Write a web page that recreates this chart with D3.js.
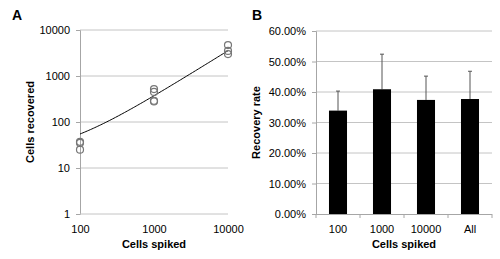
<!DOCTYPE html>
<html>
<head>
<meta charset="utf-8">
<script src="https://cdn.jsdelivr.net/npm/d3@7"></script>
<style>
  body { margin: 0; background: #fff; }
  text { font-family: "Liberation Sans", Arial, sans-serif; fill: #000; }
</style>
</head>
<body>
<div id="chart"></div>
<script>
// panel A: spiked vs recovered (log-log)
const spikedA = [100, 100, 100, 1000, 1000, 1000, 1000, 10000, 10000, 10000];
const recoveredA = [37, 35, 25, 520, 450, 290, 280, 4700, 3500, 3000];
const ticksA = [1, 10, 100, 1000, 10000];
const ticksAx = [100, 1000, 10000];
// linear trendline: y = slope * x + intercept
const trendSlope = 0.353;
const trendIntercept = 19.5;

// panel B: recovery rate
const categoriesB = ['100', '1000', '10000', 'All'];
const rateB = [0.339, 0.409, 0.374, 0.377];
const errB = [0.064, 0.115, 0.078, 0.091];
const ticksB = [0, 0.1, 0.2, 0.3, 0.4, 0.5, 0.6];

const svg = d3.select('#chart').append('svg')
  .attr('width', 500)
  .attr('height', 259);

const gridColor = '#c4c4c4';
const axisColor = '#a6a6a6';

// ---- Panel A ----
const xA = d3.scaleLog().domain([100, 10000]).range([80, 228]);
const yA = d3.scaleLog().domain([1, 10000]).range([214, 30]);

const gA = svg.append('g');

gA.selectAll('line.grid')
  .data(ticksA.slice(1))
  .join('line')
  .attr('class', 'grid')
  .attr('x1', xA(100)).attr('x2', xA(10000))
  .attr('y1', d => yA(d)).attr('y2', d => yA(d))
  .attr('stroke', gridColor);

const yAxisA = gA.append('g')
  .attr('transform', `translate(${xA(100)},0)`)
  .call(d3.axisLeft(yA).tickValues(ticksA).tickFormat(d3.format('d')).tickSize(4).tickPadding(6));
const xAxisA = gA.append('g')
  .attr('transform', `translate(0,${yA(1)})`)
  .call(d3.axisBottom(xA).tickValues(ticksAx).tickFormat(d3.format('d')).tickSize(0).tickPadding(11));

[yAxisA, xAxisA].forEach(ax => {
  ax.selectAll('path, line').attr('stroke', axisColor);
  ax.selectAll('text').attr('font-size', 11).attr('font-family', '"Liberation Sans", Arial, sans-serif').attr('fill', '#000');
});
xAxisA.select('path').attr('stroke', 'none');
gA.append('line')
  .attr('x1', xA(100)).attr('x2', xA(10000))
  .attr('y1', yA(1)).attr('y2', yA(1))
  .attr('stroke', gridColor);

// trendline
const trendX = d3.range(0, 101).map(i => Math.pow(10, 2 + i * 0.02));
gA.append('path')
  .datum(trendX)
  .attr('fill', 'none')
  .attr('stroke', '#000')
  .attr('stroke-width', 1)
  .attr('d', d3.line().x(d => xA(d)).y(d => yA(trendSlope * d + trendIntercept)));

gA.selectAll('circle')
  .data(spikedA.map((s, i) => [s, recoveredA[i]]))
  .join('circle')
  .attr('cx', d => xA(d[0]))
  .attr('cy', d => yA(d[1]))
  .attr('r', 3.5)
  .attr('fill', 'none')
  .attr('stroke', '#777')
  .attr('stroke-width', 1.2);

gA.append('text')
  .attr('x', 12).attr('y', 20)
  .attr('font-size', 14).attr('font-weight', 'bold')
  .text('A');
gA.append('text')
  .attr('x', xA(1000)).attr('y', 248)
  .attr('text-anchor', 'middle')
  .attr('font-size', 11).attr('font-weight', 'bold')
  .text('Cells spiked');
gA.append('text')
  .attr('transform', `translate(34,${(yA(1) + yA(10000)) / 2}) rotate(-90)`)
  .attr('text-anchor', 'middle')
  .attr('font-size', 11).attr('font-weight', 'bold')
  .text('Cells recovered');

// ---- Panel B ----
const xB = d3.scaleBand().domain(categoriesB).range([316, 492])
  .paddingInner(0.59).paddingOuter(0.295);
const yB = d3.scaleLinear().domain([0, 0.6]).range([214, 31]);

const gB = svg.append('g');

gB.selectAll('line.grid')
  .data(ticksB.slice(1))
  .join('line')
  .attr('class', 'grid')
  .attr('x1', 316).attr('x2', 492)
  .attr('y1', d => yB(d)).attr('y2', d => yB(d))
  .attr('stroke', gridColor);

const yAxisB = gB.append('g')
  .attr('transform', 'translate(316,0)')
  .call(d3.axisLeft(yB).tickValues(ticksB).tickFormat(d3.format('.2%')).tickSize(4).tickPadding(6));
const xAxisB = gB.append('g')
  .attr('transform', `translate(0,${yB(0)})`)
  .call(d3.axisBottom(xB).tickSize(0).tickPadding(11));

[yAxisB, xAxisB].forEach(ax => {
  ax.selectAll('path, line').attr('stroke', axisColor);
  ax.selectAll('text').attr('font-size', 11).attr('font-family', '"Liberation Sans", Arial, sans-serif').attr('fill', '#000');
});
xAxisB.select('path').attr('d', `M316,0.5H492`);

// category boundary ticks
const stepB = xB.step();
const bounds = categoriesB.map(c => xB(c) + xB.bandwidth() / 2 - stepB / 2)
  .concat([xB(categoriesB[categoriesB.length - 1]) + xB.bandwidth() / 2 + stepB / 2]);
gB.selectAll('line.btick')
  .data(bounds)
  .join('line')
  .attr('class', 'btick')
  .attr('x1', d => d).attr('x2', d => d)
  .attr('y1', yB(0)).attr('y2', yB(0) + 4)
  .attr('stroke', axisColor);

// error bars (upper only)
const errG = gB.selectAll('g.err')
  .data(categoriesB)
  .join('g')
  .attr('class', 'err');
errG.append('line')
  .attr('x1', d => xB(d) + xB.bandwidth() / 2)
  .attr('x2', d => xB(d) + xB.bandwidth() / 2)
  .attr('y1', (d, i) => yB(rateB[i]))
  .attr('y2', (d, i) => yB(rateB[i] + errB[i]))
  .attr('stroke', '#555');
errG.append('line')
  .attr('x1', d => xB(d) + xB.bandwidth() / 2 - 2)
  .attr('x2', d => xB(d) + xB.bandwidth() / 2 + 2)
  .attr('y1', (d, i) => yB(rateB[i] + errB[i]))
  .attr('y2', (d, i) => yB(rateB[i] + errB[i]))
  .attr('stroke', '#555');

gB.selectAll('rect')
  .data(categoriesB)
  .join('rect')
  .attr('x', d => xB(d))
  .attr('y', (d, i) => yB(rateB[i]))
  .attr('width', xB.bandwidth())
  .attr('height', (d, i) => yB(0) - yB(rateB[i]))
  .attr('fill', '#000');

gB.append('text')
  .attr('x', 252).attr('y', 20)
  .attr('font-size', 14).attr('font-weight', 'bold')
  .text('B');
gB.append('text')
  .attr('x', 404).attr('y', 248)
  .attr('text-anchor', 'middle')
  .attr('font-size', 11).attr('font-weight', 'bold')
  .text('Cells spiked');
gB.append('text')
  .attr('transform', `translate(260,${(yB(0) + yB(0.6)) / 2}) rotate(-90)`)
  .attr('text-anchor', 'middle')
  .attr('font-size', 11).attr('font-weight', 'bold')
  .text('Recovery rate');
</script>
</body>
</html>
